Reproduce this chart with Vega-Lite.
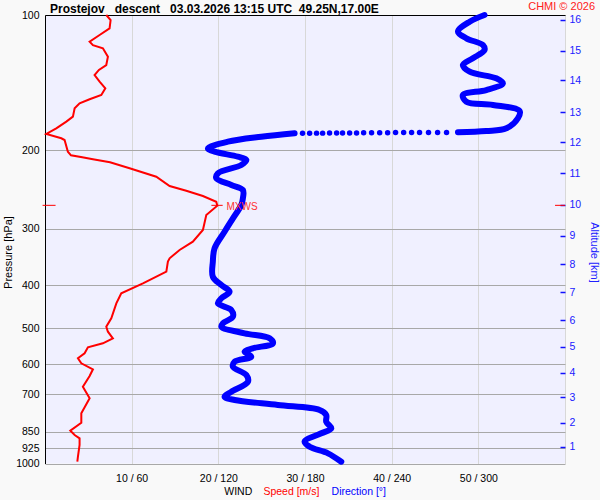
{
  "$schema": "https://vega.github.io/schema/vega-lite/v6.json",
  "width": 520,
  "height": 448.5,
  "autosize": "none",
  "padding": {"left": 45, "top": 15, "right": 35, "bottom": 36.5},
  "background": "#f9f9f9",
  "config": {"font": "Liberation Sans", "view": {"fill": "#f0f0ff", "stroke": null}},
  "title": {
    "text": "Prostejov\u00a0\u00a0\u00a0descent\u00a0\u00a0\u00a003.03.2026 13:15 UTC\u00a0\u00a049.25N,17.00E",
    "anchor": "start", "frame": "group", "dx": 5, "offset": -15,
    "fontSize": 12, "fontWeight": "bold", "color": "black", "font": "Liberation Sans"
  },
  "datasets": {
    "speed": [
      {"p": 100, "s": 7.07}, {"p": 102.6, "s": 7.57}, {"p": 107.1, "s": 7.45}, {"p": 110.8, "s": 6.3},
      {"p": 114.7, "s": 5.15}, {"p": 116.7, "s": 5.53}, {"p": 118.6, "s": 6.68}, {"p": 123.9, "s": 7.26},
      {"p": 129.3, "s": 7.07}, {"p": 132.6, "s": 6.22}, {"p": 136.1, "s": 5.72}, {"p": 140.8, "s": 6.3},
      {"p": 145.7, "s": 6.96}, {"p": 150.8, "s": 6.5}, {"p": 154.1, "s": 5.15}, {"p": 157.3, "s": 3.99},
      {"p": 161.4, "s": 3.42}, {"p": 168.5, "s": 3.22}, {"p": 172.9, "s": 2.46}, {"p": 178.9, "s": 1.3},
      {"p": 184.2, "s": 0.15}, {"p": 188.3, "s": 1.88}, {"p": 190.0, "s": 2.26}, {"p": 201.7, "s": 2.64},
      {"p": 205.5, "s": 3.0}, {"p": 207.6, "s": 4.3}, {"p": 209.8, "s": 5.53}, {"p": 213.0, "s": 7.5},
      {"p": 219.7, "s": 9.76}, {"p": 229.4, "s": 12.84}, {"p": 240.6, "s": 14.38}, {"p": 246.5, "s": 16.3},
      {"p": 253.3, "s": 18.22}, {"p": 260.8, "s": 19.76}, {"p": 266.2, "s": 19.88}, {"p": 279.2, "s": 18.61},
      {"p": 301.6, "s": 18.22}, {"p": 320.2, "s": 17.06}, {"p": 334.1, "s": 15.53}, {"p": 348.7, "s": 14.38},
      {"p": 354.8, "s": 14.18}, {"p": 373.5, "s": 14.0}, {"p": 396.5, "s": 11.3}, {"p": 417.4, "s": 8.8},
      {"p": 439.4, "s": 8.23}, {"p": 474.5, "s": 7.65}, {"p": 495.5, "s": 7.07}, {"p": 508.3, "s": 7.26},
      {"p": 525.8, "s": 7.83}, {"p": 539.5, "s": 6.68}, {"p": 550.7, "s": 4.95}, {"p": 567.9, "s": 4.57},
      {"p": 582.7, "s": 3.8}, {"p": 597.9, "s": 4.19}, {"p": 616.6, "s": 5.53}, {"p": 638.1, "s": 5.15},
      {"p": 674.2, "s": 4.37}, {"p": 715.5, "s": 5.15}, {"p": 772.9, "s": 4.19}, {"p": 811.0, "s": 4.19},
      {"p": 845.1, "s": 2.92}, {"p": 864.0, "s": 3.42}, {"p": 878.7, "s": 3.99}, {"p": 909.4, "s": 3.99},
      {"p": 965.7, "s": 3.8}, {"p": 990.8, "s": 3.73}
    ],
    "dir": [
      {"p": 100, "d": 304.3, "seg": "a"}, {"p": 103.5, "d": 294.0, "seg": "a"}, {"p": 108.9, "d": 285.9, "seg": "a"},
      {"p": 112.7, "d": 291.7, "seg": "a"}, {"p": 116.7, "d": 303.2, "seg": "a"}, {"p": 119.7, "d": 304.3, "seg": "a"},
      {"p": 124.9, "d": 296.2, "seg": "a"}, {"p": 129.3, "d": 289.3, "seg": "a"}, {"p": 133.8, "d": 294.0, "seg": "a"},
      {"p": 138.4, "d": 312.4, "seg": "a"}, {"p": 142.0, "d": 317.0, "seg": "a"}, {"p": 147.0, "d": 305.5, "seg": "a"},
      {"p": 150.8, "d": 289.3, "seg": "a"}, {"p": 156.1, "d": 291.7, "seg": "a"}, {"p": 158.7, "d": 310.1, "seg": "a"},
      {"p": 163.7, "d": 328.6, "seg": "a"}, {"p": 169.9, "d": 327.4, "seg": "a"}, {"p": 178.9, "d": 319.4, "seg": "a"},
      {"p": 181.4, "d": 305.5, "seg": "a"}, {"p": 182.6, "d": 285.9, "seg": "a"},
      {"p": 183.5, "d": 172.8, "seg": "b"}, {"p": 186.8, "d": 149.7, "seg": "b"}, {"p": 191.6, "d": 126.6, "seg": "b"},
      {"p": 198.3, "d": 112.8, "seg": "b"}, {"p": 201.7, "d": 117.4, "seg": "b"}, {"p": 207.0, "d": 133.5, "seg": "b"},
      {"p": 210.5, "d": 139.4, "seg": "b"}, {"p": 216.0, "d": 135.9, "seg": "b"}, {"p": 225.4, "d": 119.7, "seg": "b"},
      {"p": 231.3, "d": 118.6, "seg": "b"}, {"p": 239.3, "d": 129.0, "seg": "b"}, {"p": 245.6, "d": 137.0, "seg": "b"},
      {"p": 256.3, "d": 137.0, "seg": "b"}, {"p": 265.2, "d": 135.9, "seg": "b"}, {"p": 284.0, "d": 130.1, "seg": "b"},
      {"p": 304.2, "d": 124.3, "seg": "b"}, {"p": 331.2, "d": 117.4, "seg": "b"}, {"p": 354.8, "d": 116.2, "seg": "b"},
      {"p": 383.3, "d": 116.2, "seg": "b"}, {"p": 400.0, "d": 122.1, "seg": "b"}, {"p": 414.0, "d": 127.8, "seg": "b"},
      {"p": 428.2, "d": 122.1, "seg": "b"}, {"p": 439.4, "d": 119.7, "seg": "b"}, {"p": 454.8, "d": 129.0, "seg": "b"},
      {"p": 470.6, "d": 130.1, "seg": "b"}, {"p": 486.9, "d": 123.2, "seg": "b"}, {"p": 495.5, "d": 122.1, "seg": "b"},
      {"p": 512.5, "d": 138.2, "seg": "b"}, {"p": 525.8, "d": 155.5, "seg": "b"}, {"p": 539.5, "d": 157.8, "seg": "b"},
      {"p": 553.5, "d": 143.9, "seg": "b"}, {"p": 563.3, "d": 138.2, "seg": "b"}, {"p": 577.9, "d": 142.8, "seg": "b"},
      {"p": 592.9, "d": 131.3, "seg": "b"}, {"p": 608.4, "d": 130.1, "seg": "b"}, {"p": 634.9, "d": 139.4, "seg": "b"},
      {"p": 657.2, "d": 140.5, "seg": "b"}, {"p": 691.7, "d": 129.0, "seg": "b"}, {"p": 709.7, "d": 124.3, "seg": "b"},
      {"p": 721.8, "d": 131.3, "seg": "b"}, {"p": 740.6, "d": 161.2, "seg": "b"}, {"p": 760.0, "d": 190.1, "seg": "b"},
      {"p": 779.8, "d": 194.7, "seg": "b"}, {"p": 806.9, "d": 194.7, "seg": "b"}, {"p": 834.8, "d": 198.2, "seg": "b"},
      {"p": 856.4, "d": 191.3, "seg": "b"}, {"p": 894.2, "d": 179.7, "seg": "b"}, {"p": 917.5, "d": 183.2, "seg": "b"},
      {"p": 949.1, "d": 195.9, "seg": "b"}, {"p": 990.8, "d": 205.1, "seg": "b"}
    ],
    "jump": [
      {"p": 183.5, "d": 178.3}, {"p": 183.5, "d": 183.2}, {"p": 183.4, "d": 188.0}, {"p": 183.4, "d": 192.2},
      {"p": 183.3, "d": 197.0}, {"p": 183.3, "d": 201.9}, {"p": 183.3, "d": 206.0}, {"p": 183.2, "d": 210.9},
      {"p": 183.2, "d": 215.7}, {"p": 183.1, "d": 220.6}, {"p": 183.1, "d": 226.1}, {"p": 183.0, "d": 231.7},
      {"p": 183.0, "d": 237.2}, {"p": 182.9, "d": 242.7}, {"p": 182.9, "d": 248.3}, {"p": 182.9, "d": 253.8},
      {"p": 182.8, "d": 259.3}, {"p": 182.8, "d": 265.5}, {"p": 182.7, "d": 271.8}, {"p": 182.7, "d": 278.0}
    ],
    "mxws": [{"p": 265.7, "s": 19.9, "label": "MXWS"}]
  },
  "layer": [
    {
      "data": {"name": "speed"},
      "mark": {"type": "line", "color": "#ff0000", "strokeWidth": 2},
      "encoding": {
        "x": {"field": "s", "type": "quantitative",
          "scale": {"domain": [0, 60], "nice": false, "zero": false},
          "axis": {"orient": "bottom", "values": [10, 20, 30, 40, 50, 60], "labelExpr": "datum.value == 60 ? '' : datum.value + ' / ' + (datum.value * 6)",
            "domain": false, "ticks": false, "labelPadding": 10, "labelFontSize": 10.5, "labelColor": "black",
            "grid": true, "gridColor": "#d8d8d8", "title": null}},
        "y": {"field": "p", "type": "quantitative",
          "scale": {"type": "log", "domain": [100, 1000], "reverse": true, "nice": false},
          "axis": {"orient": "left", "values": [100, 200, 300, 400, 500, 600, 700, 850, 925, 1000], "format": "d",
            "domain": true, "domainColor": "black", "ticks": false, "labelPadding": 6,
            "labelFontSize": 10.5, "labelColor": "black",
            "grid": true, "gridColor": "#a8a8a8",
            "title": "Pressure [hPa]", "titleFontWeight": "normal", "titleFontSize": 11, "titleColor": "black",
            "titleAngle": 270, "titleX": -37, "titleY": 237, "titleAlign": "center", "titleBaseline": "middle"}},
        "order": {"field": "p", "type": "quantitative"}
      }
    },
    {
      "data": {"name": "dir"},
      "mark": {"type": "line", "color": "#0000ff", "strokeWidth": 6, "strokeCap": "round", "strokeJoin": "round", "interpolate": "catmull-rom"},
      "encoding": {
        "x": {"field": "d", "type": "quantitative",
          "scale": {"domain": [0, 360], "nice": false, "zero": false},
          "axis": {"orient": "top", "domain": true, "domainColor": "black", "ticks": false, "labels": false, "grid": false, "title": null}},
        "y": {"field": "p", "type": "quantitative",
          "scale": {"type": "log", "domain": [100, 1000], "reverse": true, "nice": false},
          "axis": {"orient": "right", "offset": -5, "domain": false,
            "values": [917.6, 811, 711.8, 627.4, 549, 479.4, 415.3, 359.6, 310.5, 264.8, 225.4, 192.2, 164.8, 139.8, 120.3, 102.6],
            "labelExpr": "indexof([917.6, 811, 711.8, 627.4, 549, 479.4, 415.3, 359.6, 310.5, 264.8, 225.4, 192.2, 164.8, 139.8, 120.3, 102.6], datum.value) + 1",
            "tickColor": "#1010ff", "tickSize": 5, "tickWidth": 1.5, "labelPadding": 4, "labelColor": "#2020ff", "labelFontSize": 10.5,
            "grid": false,
            "title": "Altitude [km]", "titleColor": "#2020ff", "titleFontWeight": "normal", "titleFontSize": 11,
            "titleAngle": 90, "titleX": 33, "titleY": 237, "titleAlign": "center", "titleBaseline": "middle"}},
        "detail": {"field": "seg"},
        "order": {"field": "p", "type": "quantitative"}
      }
    },
    {
      "data": {"name": "jump"},
      "mark": {"type": "circle", "color": "#0000ff", "size": 30, "opacity": 1},
      "encoding": {
        "x": {"field": "d", "type": "quantitative", "scale": {"domain": [0, 360], "nice": false, "zero": false}, "axis": null},
        "y": {"field": "p", "type": "quantitative", "scale": {"type": "log", "domain": [100, 1000], "reverse": true, "nice": false}, "axis": null}
      }
    },
    {
      "data": {"name": "mxws"},
      "mark": {"type": "rule", "color": "#ff0000", "strokeWidth": 1},
      "encoding": {
        "x": {"datum": -0.28, "scale": {"domain": [0, 60], "nice": false, "zero": false}, "axis": null}, "x2": {"datum": 1.22},
        "y": {"field": "p", "type": "quantitative", "scale": {"type": "log", "domain": [100, 1000], "reverse": true, "nice": false}, "axis": null}
      }
    },
    {
      "data": {"name": "mxws"},
      "mark": {"type": "rule", "color": "#ff0000", "strokeWidth": 1},
      "encoding": {
        "x": {"datum": 19.2, "scale": {"domain": [0, 60], "nice": false, "zero": false}, "axis": null}, "x2": {"datum": 20.5},
        "y": {"field": "p", "type": "quantitative", "scale": {"type": "log", "domain": [100, 1000], "reverse": true, "nice": false}, "axis": null}
      }
    },
    {
      "data": {"name": "mxws"},
      "mark": {"type": "rule", "color": "#ff0000", "strokeWidth": 1},
      "encoding": {
        "x": {"datum": 58.85, "scale": {"domain": [0, 60], "nice": false, "zero": false}, "axis": null}, "x2": {"datum": 60},
        "y": {"field": "p", "type": "quantitative", "scale": {"type": "log", "domain": [100, 1000], "reverse": true, "nice": false}, "axis": null}
      }
    },
    {
      "data": {"name": "mxws"},
      "mark": {"type": "text", "color": "#ff3030", "fontSize": 10, "align": "left", "baseline": "middle", "dx": 9, "dy": 1.5},
      "encoding": {
        "x": {"field": "s", "type": "quantitative", "scale": {"domain": [0, 60], "nice": false, "zero": false}, "axis": null},
        "y": {"field": "p", "type": "quantitative", "scale": {"type": "log", "domain": [100, 1000], "reverse": true, "nice": false}, "axis": null},
        "text": {"field": "label"}
      }
    },
    {
      "data": {"values": [{}]},
      "mark": {"type": "text", "color": "#ff2020", "fontSize": 11, "align": "right", "baseline": "middle", "dx": 30, "dy": -8},
      "encoding": {
        "x": {"datum": 60, "scale": {"domain": [0, 60], "nice": false, "zero": false}, "axis": null},
        "y": {"datum": 100, "scale": {"type": "log", "domain": [100, 1000], "reverse": true, "nice": false}, "axis": null},
        "text": {"value": "CHMI © 2026"}
      }
    },
    {
      "data": {"values": [{}]},
      "mark": {"type": "text", "color": "black", "fontSize": 10.5, "align": "center", "baseline": "middle", "dy": 28},
      "encoding": {
        "x": {"datum": 22.3, "scale": {"domain": [0, 60], "nice": false, "zero": false}, "axis": null},
        "y": {"datum": 1000, "scale": {"type": "log", "domain": [100, 1000], "reverse": true, "nice": false}, "axis": null},
        "text": {"value": "WIND"}
      }
    },
    {
      "data": {"values": [{}]},
      "mark": {"type": "text", "color": "#ff0000", "fontSize": 10.5, "align": "left", "baseline": "middle", "dy": 28},
      "encoding": {
        "x": {"datum": 25.2, "scale": {"domain": [0, 60], "nice": false, "zero": false}, "axis": null},
        "y": {"datum": 1000, "scale": {"type": "log", "domain": [100, 1000], "reverse": true, "nice": false}, "axis": null},
        "text": {"value": "Speed [m/s]"}
      }
    },
    {
      "data": {"values": [{}]},
      "mark": {"type": "text", "color": "#0000ff", "fontSize": 10.5, "align": "left", "baseline": "middle", "dy": 28},
      "encoding": {
        "x": {"datum": 33.07, "scale": {"domain": [0, 60], "nice": false, "zero": false}, "axis": null},
        "y": {"datum": 1000, "scale": {"type": "log", "domain": [100, 1000], "reverse": true, "nice": false}, "axis": null},
        "text": {"value": "Direction [°]"}
      }
    }
  ],
  "resolve": {"scale": {"x": "independent", "y": "independent"}}
}
